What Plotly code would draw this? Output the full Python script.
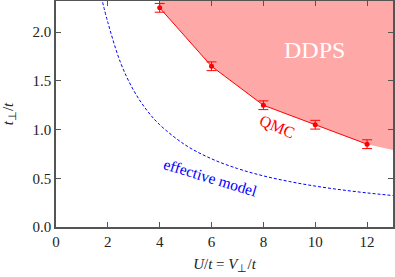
import plotly.graph_objects as go

qmc_u = [4, 6, 8, 10, 12]
qmc_t = [2.25, 1.65, 1.25, 1.05, 0.85]
qmc_err = [0.045, 0.045, 0.045, 0.045, 0.045]

phase_u = [4, 6, 8, 10, 12, 13, 13, 4]
phase_t = [2.25, 1.65, 1.25, 1.05, 0.85, 0.79, 2.4, 2.4]

eff_u = [1.75, 2.0, 2.5, 3.0, 3.5, 4.0, 5.0, 6.0, 7.0, 8.0, 9.0, 10.0, 11.0, 12.0, 13.0]
eff_t = [2.36, 2.1, 1.68, 1.4, 1.2, 1.05, 0.84, 0.70, 0.60, 0.525, 0.467, 0.42, 0.382, 0.35, 0.323]

xticks = [0, 2, 4, 6, 8, 10, 12]
yticks = [0.0, 0.5, 1.0, 1.5, 2.0]
ytick_text = ["0.0", "0.5", "1.0", "1.5", "2.0"]

FONT = "serif"
RED = "#ff0000"
TXT = "#222222"

fig = go.Figure()
fig.add_trace(go.Scatter(x=phase_u, y=phase_t, fill="toself", fillcolor="#ffa8a8",
                         line=dict(width=0), mode="lines", hoverinfo="skip", showlegend=False))
fig.add_trace(go.Scatter(x=eff_u, y=eff_t, mode="lines",
                         line=dict(color="#0000ff", width=1, dash="3px,2px", shape="spline"),
                         showlegend=False))
fig.add_trace(go.Scatter(x=qmc_u, y=qmc_t, mode="lines+markers",
                         line=dict(color=RED, width=1),
                         marker=dict(color=RED, size=5),
                         error_y=dict(type="data", array=qmc_err, color=RED, thickness=1, width=5),
                         showlegend=False))

fig.add_annotation(x=9.96, y=1.82, text="DDPS", showarrow=False,
                   font=dict(family=FONT, size=24, color="white"))
fig.add_annotation(x=8.54, y=1.03, text="QMC", showarrow=False, textangle=23,
                   font=dict(family=FONT, size=16, color=RED))
fig.add_annotation(x=5.95, y=0.51, text="effective model", showarrow=False, textangle=17,
                   font=dict(family=FONT, size=15.5, color="#0000ff"))

axis_common = dict(showline=True, linecolor="#555555", linewidth=1.5, mirror="ticks",
                   ticks="inside", ticklen=5, tickcolor="#555555", tickwidth=1,
                   showgrid=False, zeroline=False, automargin=False,
                   tickfont=dict(family=FONT, size=15, color=TXT))

fig.update_xaxes(range=[0, 13], tickvals=xticks, ticktext=[str(v) for v in xticks],
                 title=dict(text="<i>U</i>/<i>t</i> = <i>V</i><sub>⊥</sub>/<i>t</i>",
                            font=dict(family=FONT, size=15, color=TXT), standoff=10),
                 **axis_common)
fig.update_yaxes(range=[0, 2.32], tickvals=yticks, ticktext=ytick_text,
                 title=dict(text="<i>t</i><sub>⊥</sub>/<i>t</i>",
                            font=dict(family=FONT, size=15, color=TXT), standoff=15),
                 **axis_common)

fig.update_layout(width=395, height=277, margin=dict(l=56, r=2, t=1, b=50),
                  plot_bgcolor="white", paper_bgcolor="white")
fig.write_html("out.html", config={"displayModeBar": False},
               post_script="document.body.style.margin='0';")
